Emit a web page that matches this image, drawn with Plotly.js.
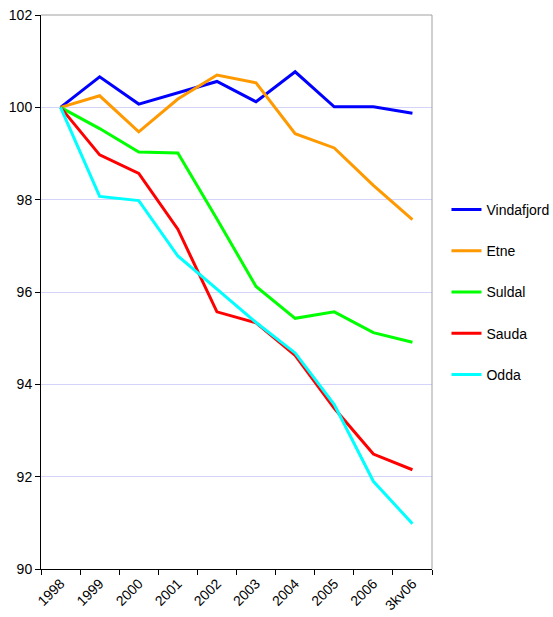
<!DOCTYPE html>
<html>
<head>
<meta charset="utf-8">
<script src="https://cdn.plot.ly/plotly-3.0.1.min.js"></script>
<style>html,body{margin:0;padding:0;background:#fff;}#chart{width:553px;height:617px;}</style>
</head>
<body>
<div id="chart"></div>
<script>
const categories = ["1998","1999","2000","2001","2002","2003","2004","2005","2006","3kv06"];
const vindafjord = [100, 100.66, 100.07, 100.31, 100.56, 100.12, 100.77, 100.01, 100.01, 99.87];
const etne       = [100, 100.25, 99.47, 100.18, 100.70, 100.53, 99.43, 99.12, 98.31, 97.57];
const suldal     = [100, 99.54, 99.03, 99.01, 97.58, 96.12, 95.43, 95.57, 95.12, 94.91];
const sauda      = [100, 98.97, 98.57, 97.36, 95.57, 95.33, 94.63, 93.48, 92.49, 92.15];
const odda       = [100, 98.07, 97.98, 96.78, 96.06, 95.34, 94.68, 93.56, 91.90, 90.98];
const seriesNames = ["Vindafjord","Etne","Suldal","Sauda","Odda"];
const seriesColors = ["#0000ff","#ff9900","#00ff00","#ff0000","#00ffff"];
const seriesValues = [vindafjord, etne, suldal, sauda, odda];

const traces = seriesValues.map((vals, i) => ({
  type: "scatter",
  mode: "lines",
  x: categories,
  y: vals,
  name: seriesNames[i],
  legendgroup: "g" + i,
  line: {color: seriesColors[i], width: 3}
}));

const layout = {
  width: 553, height: 617,
  margin: {l: 41, r: 121, t: 15, b: 48, autoexpand: false},
  paper_bgcolor: "#ffffff",
  plot_bgcolor: "#ffffff",
  font: {family: "Liberation Sans, Arial, sans-serif", size: 14, color: "#000"},
  showlegend: true,
  legend: {
    x: 1.037, xanchor: "left", y: 0.5, yanchor: "middle",
    font: {size: 14, color: "#000"},
    tracegroupgap: 20,
    bgcolor: "rgba(0,0,0,0)"
  },
  xaxis: {
    type: "category",
    range: [-0.5, 9.5],
    tickson: "boundaries",
    ticks: "outside",
    ticklen: 5,
    tickcolor: "#000",
    tickangle: -45,
    showgrid: false,
    showline: true,
    linecolor: "#000",
    linewidth: 1,
    zeroline: false,
    automargin: false,
    tickfont: {size: 14}
  },
  yaxis: {
    range: [90, 102],
    dtick: 2,
    tick0: 90,
    ticks: "outside",
    ticklen: 5,
    tickcolor: "#000",
    showgrid: true,
    gridcolor: "#d4d4f8",
    gridwidth: 1,
    showline: true,
    linecolor: "#000",
    linewidth: 1,
    zeroline: false,
    automargin: false,
    tickfont: {size: 14}
  },
  shapes: [
    {type: "line", xref: "paper", yref: "paper", x0: 0, x1: 1, y0: 1, y1: 1, line: {color: "#a0a0a0", width: 1}},
    {type: "line", xref: "paper", yref: "paper", x0: 1, x1: 1, y0: 0, y1: 1, line: {color: "#a0a0a0", width: 1}}
  ]
};

Plotly.newPlot("chart", traces, layout, {displayModeBar: false, staticPlot: true});
</script>
</body>
</html>
